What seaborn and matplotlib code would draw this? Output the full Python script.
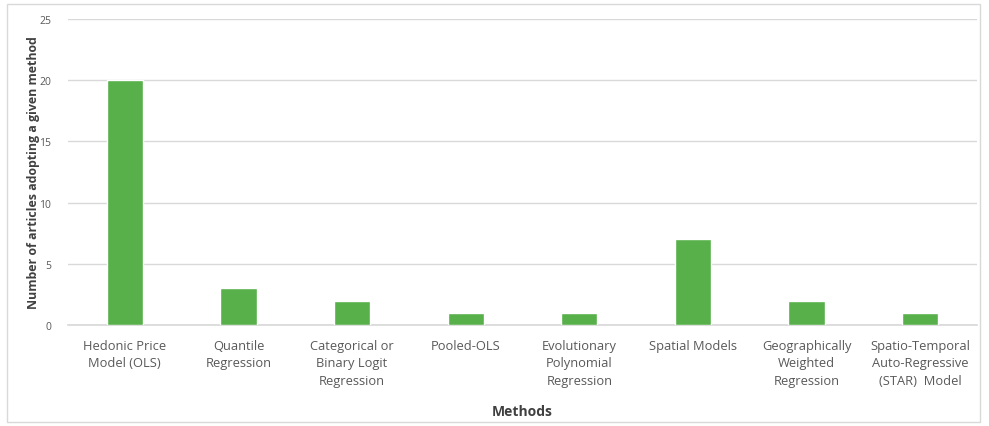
import matplotlib
matplotlib.use("Agg")
import matplotlib.pyplot as plt
import seaborn as sns
import pandas as pd
from matplotlib.patches import Rectangle

# data
methods = [
    "Hedonic Price\nModel (OLS)",
    "Quantile\nRegression",
    "Categorical or\nBinary Logit\nRegression",
    "Pooled-OLS",
    "Evolutionary\nPolynomial\nRegression",
    "Spatial Models",
    "Geographically\nWeighted\nRegression",
    "Spatio-Temporal\nAuto-Regressive\n(STAR)  Model",
]
articles = [20, 3, 2, 1, 1, 7, 2, 1]

df = pd.DataFrame({"Methods": methods, "Articles": articles})

sns.set_theme(style="white")
plt.rcParams["font.family"] = ["Open Sans", "DejaVu Sans"]

fig = plt.figure(figsize=(9.89, 4.27), dpi=100)
ax = fig.add_axes([0.0688, 0.2365, 0.919, 0.7165])

sns.barplot(data=df, x="Methods", y="Articles", color="#58b04a",
            saturation=1, width=0.32, ax=ax, zorder=3)

ax.set_ylim(0, 25)
ax.set_yticks([0, 5, 10, 15, 20, 25])
ax.yaxis.grid(True, color="#d9d9d9", linewidth=1, zorder=0)
for s in ["top", "right", "left"]:
    ax.spines[s].set_visible(False)
ax.spines["bottom"].set_color("#d9d9d9")
ax.tick_params(axis="y", labelsize=7.5, colors="#595959", length=0, pad=12)
ax.tick_params(axis="x", labelsize=9.3, colors="#595959", length=0, pad=10)
for lbl in ax.get_xticklabels():
    lbl.set_linespacing(1.45)

ax.set_xlabel("Methods", fontsize=10, fontweight="bold", color="#404040", labelpad=12)
ax.set_ylabel("Number of articles adopting a given method", fontsize=8.9,
              fontweight="bold", color="#404040")
ax.yaxis.set_label_coords(-0.031, 0.5)

# light frame around the whole chart
fig.patches.append(Rectangle((0.007, 0.01), 0.984, 0.978, transform=fig.transFigure,
                             fill=False, edgecolor="#d9d9d9", linewidth=1))

fig.savefig("out.png", dpi=100)
